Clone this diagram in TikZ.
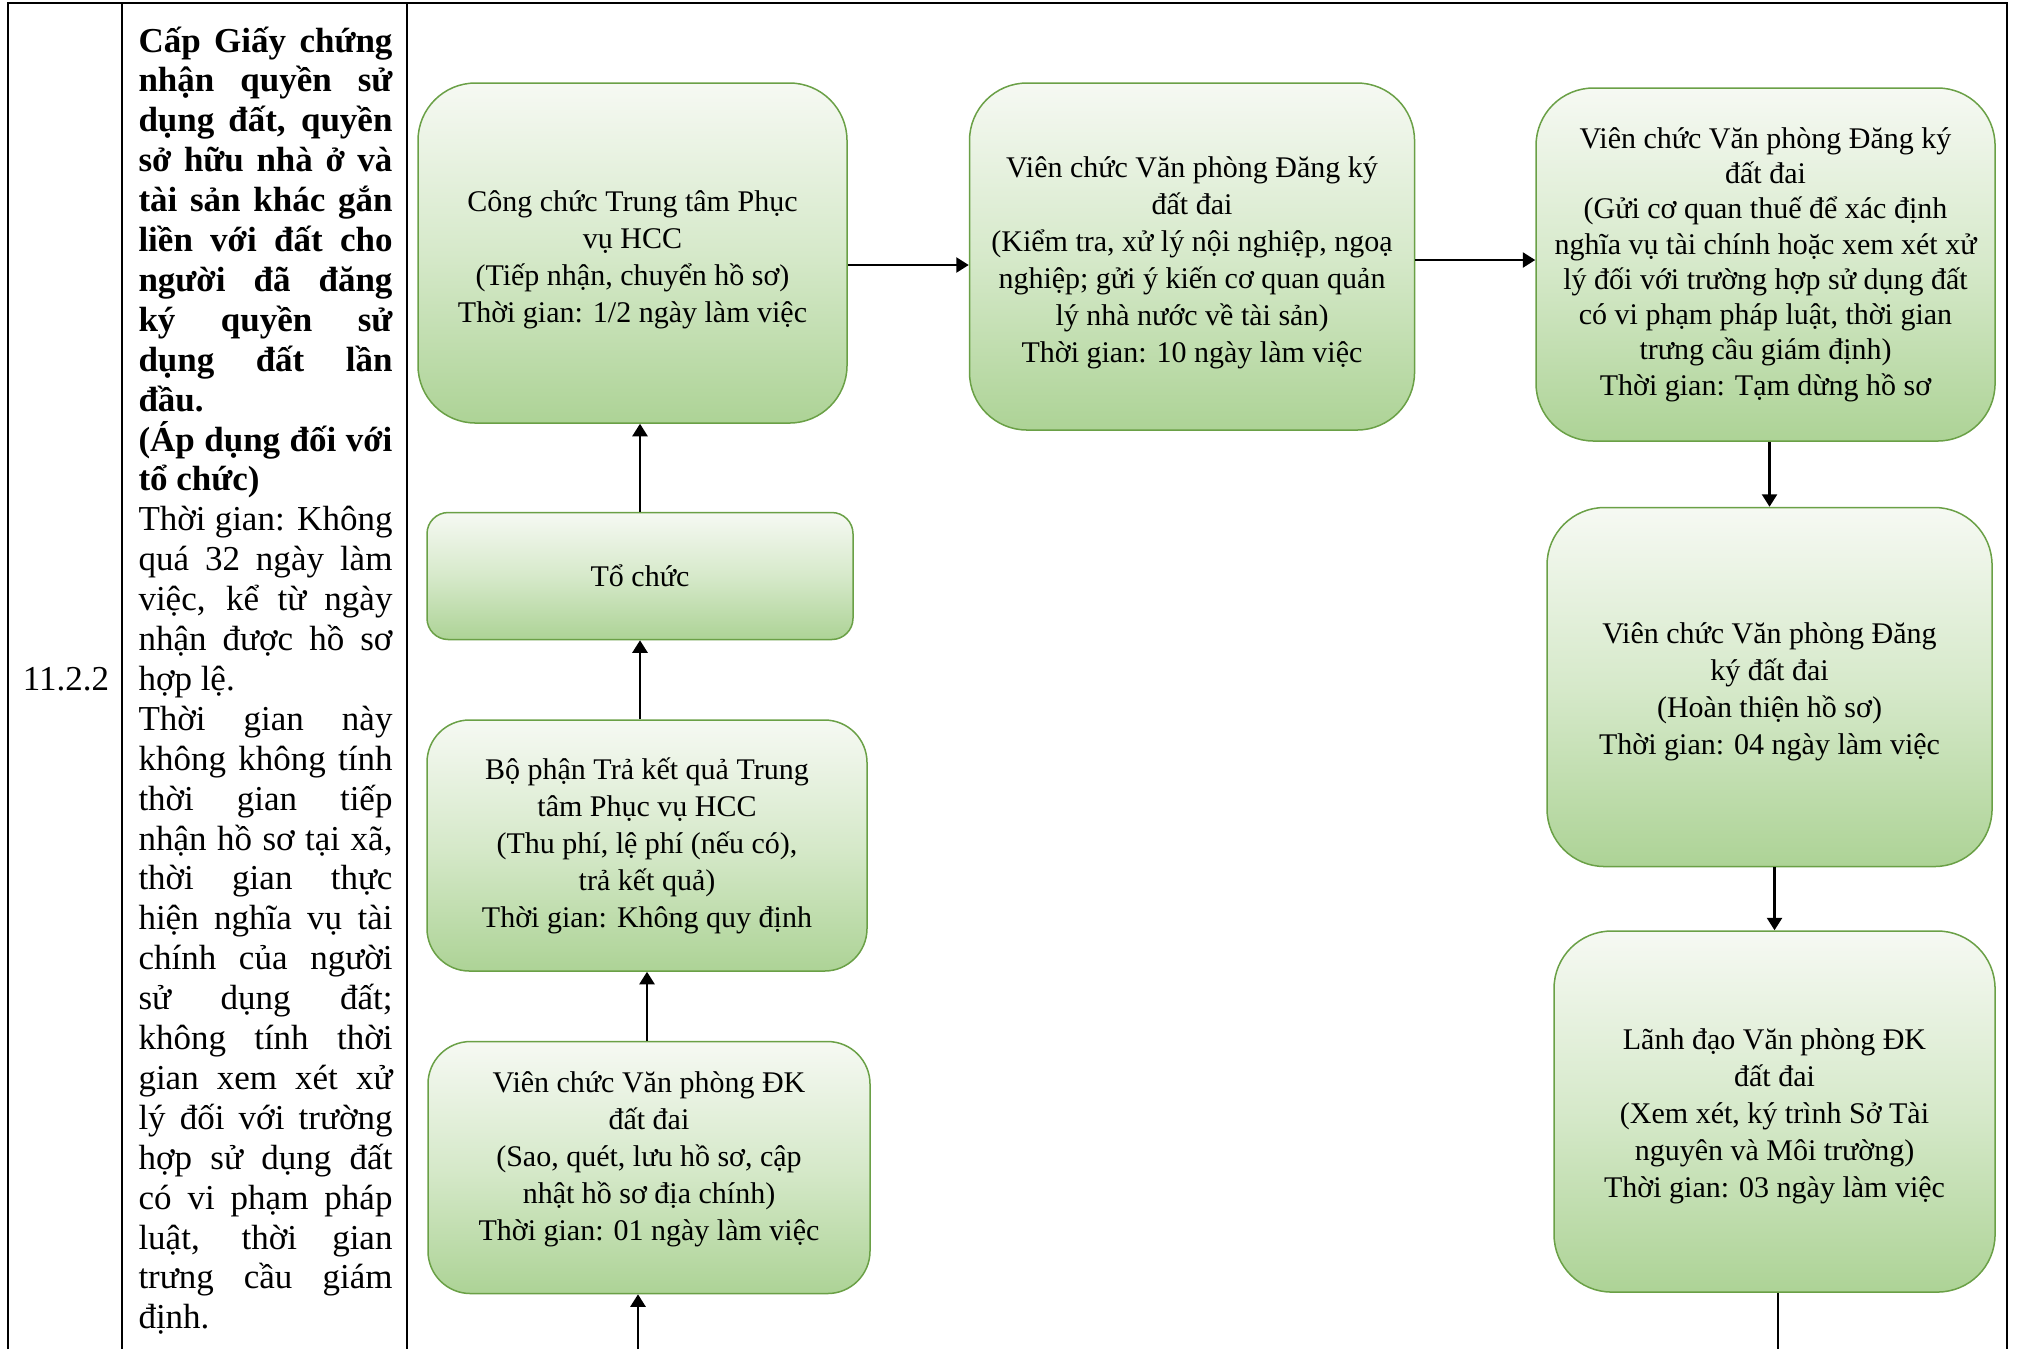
\documentclass[tikz,border=0pt]{standalone}
\usepackage{fontspec}
\setmainfont{Liberation Serif}
\usetikzlibrary{arrows.meta, positioning}
\definecolor{stepborder}{RGB}{106,160,70}
\definecolor{steptop}{RGB}{246,249,243}
\definecolor{stepmid}{RGB}{214,233,202}
\definecolor{stepbottom}{RGB}{173,211,150}
\tolerance=10000
\hbadness=10000

\begin{document}
\begin{tikzpicture}[
    x=0.4pt, y=-0.4pt,
    box/.style={rectangle, rounded corners=23pt, align=center, inner sep=2pt,
                draw=stepborder, line width=0.6pt,
                top color=steptop, bottom color=stepbottom, middle color=stepmid,
                font=\fontsize{12pt}{14.8pt}\selectfont},
    coltext/.style={inner sep=0pt, font=\fontsize{14pt}{15.96pt}\selectfont},
    arrow/.style={-{Triangle[width=6pt,length=5pt]}, line width=1pt},
    tablerule/.style={line width=1pt}
  ]
    \useasboundingbox (0,0) rectangle (2018,1349);
    \coordinate (pgbot) at (0,1349);

    % Table
    \draw[tablerule] (8,1349) -- (8,3) -- (2007,3) -- (2007,1349);
    \draw[tablerule] (122,3) -- (122,1349);
    \draw[tablerule] (407,3) -- (407,1349);

    % Left columns
    \node[coltext, anchor=base] (code) at (66,690) {11.2.2};
    \node[coltext, anchor=base west, text width=101.6pt, align=justify] (title) at (138,52) {%
      \bfseries Cấp Giấy chứng\linebreak nhận quyền sử\linebreak dụng đất, quyền\linebreak
      sở hữu nhà ở và\linebreak tài sản khác gắn\linebreak liền với đất cho\linebreak
      người đã đăng\linebreak ký quyền sử\linebreak dụng đất lần\linebreak đầu.\par
      (Áp dụng đối với\linebreak tổ chức)\par
      \mdseries Thời gian: Không\linebreak quá 32 ngày làm\linebreak việc, kể từ ngày\linebreak
      nhận được hồ sơ\linebreak hợp lệ.\par
      Thời gian này\linebreak không không tính\linebreak thời gian tiếp\linebreak
      nhận hồ sơ tại xã,\linebreak thời gian thực\linebreak hiện nghĩa vụ tài\linebreak
      chính của người\linebreak sử dụng đất;\linebreak không tính thời\linebreak
      gian xem xét xử\linebreak lý đối với trường\linebreak hợp sử dụng đất\linebreak
      có vi phạm pháp\linebreak luật, thời gian\linebreak trưng cầu giám\linebreak định.};

    % Tiep nhan
    \node[box, minimum width=171.6pt, minimum height=136pt] (tiepnhan) at (632.5,253)
      {\rule{0pt}{14pt}Công chức Trung tâm Phục\\vụ HCC\\(Tiếp nhận, chuyển hồ sơ)\\Thời gian: 1/2 ngày làm việc};
    % Kiem tra
    \node[box, minimum width=178pt, minimum height=138.8pt, right=48.4pt of tiepnhan, yshift=-1.4pt] (kiemtra)
      {\rule{0pt}{13pt}Viên chức Văn phòng Đăng ký\\đất đai\\(Kiểm tra, xử lý nội nghiệp, ngoạ\\nghiệp; gửi ý kiến cơ quan quản\\lý nhà nước về tài sản)\\Thời gian: 10 ngày làm việc};
    % Gui thue
    \node[box, font=\fontsize{12pt}{14.1pt}\selectfont, minimum width=183.6pt, minimum height=141.2pt, right=48pt of kiemtra, yshift=-3.2pt] (guithue)
      {Viên chức Văn phòng Đăng ký\\đất đai\\(Gửi cơ quan thuế để xác định\\nghĩa vụ tài chính hoặc xem xét xử\\lý đối với trường hợp sử dụng đất\\có vi phạm pháp luật, thời gian\\trưng cầu giám định)\\Thời gian: Tạm dừng hồ sơ};
    % Hoan thien
    \node[box, minimum width=178pt, minimum height=143.6pt, below=26pt of guithue, xshift=1.6pt] (hoanthien)
      {\rule{0pt}{12pt}Viên chức Văn phòng Đăng\\ký đất đai\\(Hoàn thiện hồ sơ)\\Thời gian: 04 ngày làm việc};
    % Lanh dao
    \node[box, minimum width=176.4pt, minimum height=144.4pt, below=25.2pt of hoanthien, xshift=2pt] (lanhdao)
      {\rule{0pt}{12pt}Lãnh đạo Văn phòng ĐK\\đất đai\\(Xem xét, ký trình Sở Tài\\nguyên và Môi trường)\\Thời gian: 03 ngày làm việc};
    % To chuc
    \node[box, rounded corners=8.5pt, minimum width=170.4pt, minimum height=50.8pt, below=35.2pt of tiepnhan, xshift=3pt] (tochuc)
      {Tổ chức};
    % Tra ket qua
    \node[box, rounded corners=17pt, minimum width=176pt, minimum height=100.4pt, below=31.6pt of tochuc, xshift=2.8pt] (traketqua)
      {Bộ phận Trả kết quả Trung\\tâm Phục vụ HCC\\(Thu phí, lệ phí (nếu có),\\trả kết quả)\\Thời gian: Không quy định};
    % Cap nhat
    \node[box, rounded corners=17pt, minimum width=176.8pt, minimum height=100.8pt, below=27.6pt of traketqua, xshift=0.8pt] (capnhat)
      {Viên chức Văn phòng ĐK\\đất đai\\(Sao, quét, lưu hồ sơ, cập\\nhật hồ sơ địa chính)\\Thời gian: 01 ngày làm việc\rule[-9.2pt]{0pt}{0pt}};

    % Arrows
    \draw[arrow] ([yshift=-4.8pt]tiepnhan.east) -- ([yshift=-4.8pt]tiepnhan.east -| kiemtra.west);
    \draw[arrow] ([yshift=-1.4pt]kiemtra.east) -- ([yshift=-1.4pt]kiemtra.east -| guithue.west);
    \draw[arrow] (guithue.south -| hoanthien.north) -- (hoanthien.north);
    \draw[arrow] (hoanthien.south -| lanhdao.north) -- (lanhdao.north);
    \draw[line width=0.5pt] ([xshift=1.4pt]lanhdao.south) -- ([xshift=1.4pt]lanhdao.south |- pgbot);
    \draw[arrow] (tochuc.north) -- (tochuc.north |- tiepnhan.south);
    \draw[arrow] (traketqua.north -| tochuc.north) -- (tochuc.south);
    \draw[arrow] (capnhat.north -| traketqua.south) -- (traketqua.south);
    \coordinate (vao) at ([xshift=-4.4pt]capnhat.south |- pgbot);
    \draw[arrow] (vao) -- (vao |- capnhat.south);
  \end{tikzpicture}
\end{document}
